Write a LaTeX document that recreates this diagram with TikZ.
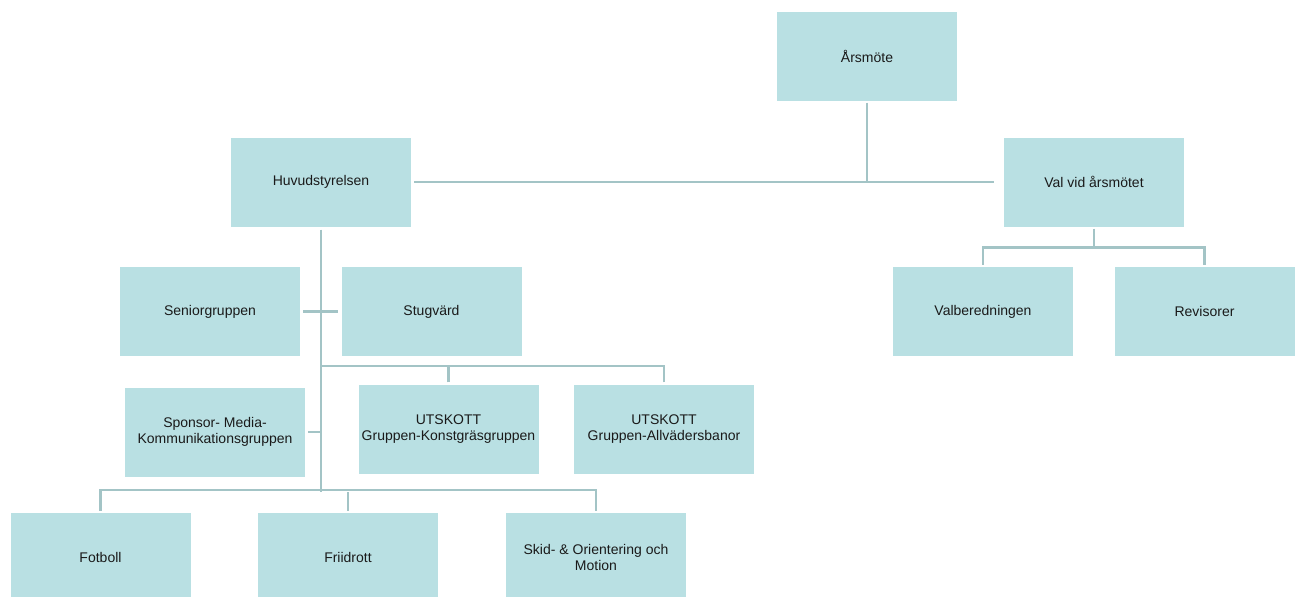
\documentclass[tikz,border=0pt]{standalone}
\usepackage{fontspec}
\setmainfont{Liberation Sans}
\definecolor{boxfill}{HTML}{B9E0E3}
\definecolor{linecol}{HTML}{A3C4C6}
\definecolor{txtcol}{HTML}{1A1A1A}
\begin{document}
\begin{tikzpicture}[x=1pt,y=-1pt,
  orgbox/.style={fill=boxfill,draw=none,minimum width=180pt,minimum height=89pt,inner sep=0pt,align=center,text=txtcol,font=\fontsize{14}{16}\selectfont},
  conn/.style={draw=linecol,line width=2.6pt}]
\useasboundingbox (0,0) rectangle (1299,597);
\clip (0,0) rectangle (1299,597);
% nodes
\node[orgbox] (ars) at (867,56) {Årsmöte};
\node[orgbox] (huv) at (321,182) {Huvudstyrelsen};
\node[orgbox] (val) at (1094,182) {Val vid årsmötet};
\node[orgbox] (valb) at (983,311.5) {Valberedningen};
\node[orgbox] (rev) at (1204.5,311.5) {Revisorer};
\node[orgbox] (sen) at (210,311.5) {Seniorgruppen};
\node[orgbox] (stu) at (431.5,311.5) {Stugvärd};
\node[orgbox] (spo) at (215,432) {Sponsor- Media-\\Kommunikationsgruppen};
\node[orgbox] (ut1) at (448.5,429) {UTSKOTT\\Gruppen-Konstgräsgruppen};
\node[orgbox] (ut2) at (664,429) {UTSKOTT\\Gruppen-Allvädersbanor};
\node[orgbox,minimum height=88pt] (fot) at (100.5,557) {Fotboll};
\node[orgbox,minimum height=88pt] (fri) at (348,557) {Friidrott};
\node[orgbox,minimum height=88pt] (ski) at (596,557) {Skid- \& Orientering och\\Motion};
% helper coordinates
\coordinate (junA) at (ars.south |- huv.east);
\coordinate (valB) at ([yshift=-21pt]val.south);
\coordinate (tTop) at ([yshift=-3pt]huv.south);
\coordinate (tBot) at (huv.south |- 0,492);
\coordinate (tMid) at (huv.south |- 0,366);
% connectors
\draw[conn] ([yshift=-2pt]ars.south) -- (junA);
\draw[conn] ([xshift=3pt]huv.east) -- ([xshift=-10pt]val.west);
\draw[conn] ([yshift=-2pt]val.south) -- (valB);
\draw[conn] ([yshift=2pt]valb.north) |- (valB) -| ([yshift=2pt]rev.north);
\draw[conn] (tTop) -- (tBot);
\draw[conn] ([xshift=3pt]sen.east) -- ([xshift=-3pt]stu.west);
\draw[conn] ([xshift=3pt]spo.east) -- (spo.east -| tTop);
\draw[conn] ([yshift=2pt]ut2.north) |- (tMid);
\draw[conn] ([yshift=2pt]ut1.north) -- (ut1.north |- tMid);
\draw[conn] ([yshift=2pt]fot.north) |- ([yshift=2pt]fot.north |- tBot) -| ([yshift=2pt]ski.north);
\draw[conn] ([yshift=2pt]fri.north) -- (fri.north |- tBot);
\end{tikzpicture}
\end{document}
